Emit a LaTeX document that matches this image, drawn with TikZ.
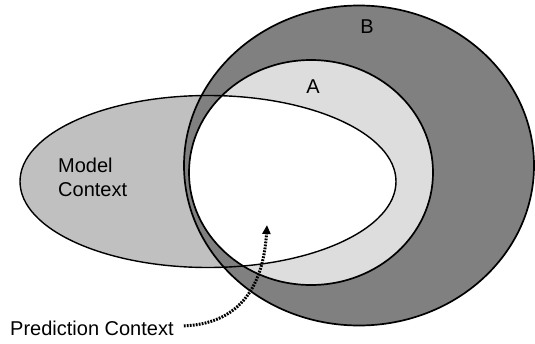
\documentclass[tikz,border=0pt]{standalone}
\usepackage{fontspec}
\setmainfont{Liberation Sans}
\usetikzlibrary{arrows.meta}
\definecolor{mcgray}{HTML}{C0C0C0}
\definecolor{bgray}{HTML}{808080}
\definecolor{agray}{HTML}{DDDDDD}
\begin{document}
\begin{tikzpicture}[x=1pt,y=-1pt,
  outline/.style={draw=black,line width=1.7pt},
  lbl/.style={font=\fontsize{20}{24}\selectfont,inner sep=0pt},
  dotarrow/.style={line width=3pt,dash pattern=on 1.8pt off 1.2pt,-{Triangle[length=9pt,width=8pt]}}]
\useasboundingbox (0,0) rectangle (535,343);
\def\ellM{(208,181.5) ellipse [x radius=188pt, y radius=86pt]}
\def\ellB{(359,165.5) ellipse [x radius=175pt, y radius=160pt]}
\def\ellA{(311,172.5) ellipse [x radius=122pt, y radius=112.5pt]}
% fills
\fill[mcgray] \ellM;
\fill[bgray] \ellB;
\fill[agray] \ellA;
\begin{scope}
  \clip \ellA;
  \fill[white] \ellM;
\end{scope}
% outlines
\draw[outline,line width=1.4pt] \ellM;
\draw[outline] \ellB;
\draw[outline] \ellA;
% labels
\node[lbl,anchor=base] (b) at (367,33) {B};
\node[lbl,anchor=base] (a) at (313,93) {A};
\node[lbl,anchor=base west] (mc1) at (58,172) {Model};
\node[lbl,anchor=base west] (mc2) at (58,196) {Context};
\node[lbl,anchor=base west] (pc) at (10,335) {Prediction Context};
\coordinate (tip) at (267,225);
\draw[dotarrow] ([xshift=10pt,yshift=2pt]pc.east) .. controls (235,324) and (263,292) .. (tip);
\end{tikzpicture}
\end{document}
